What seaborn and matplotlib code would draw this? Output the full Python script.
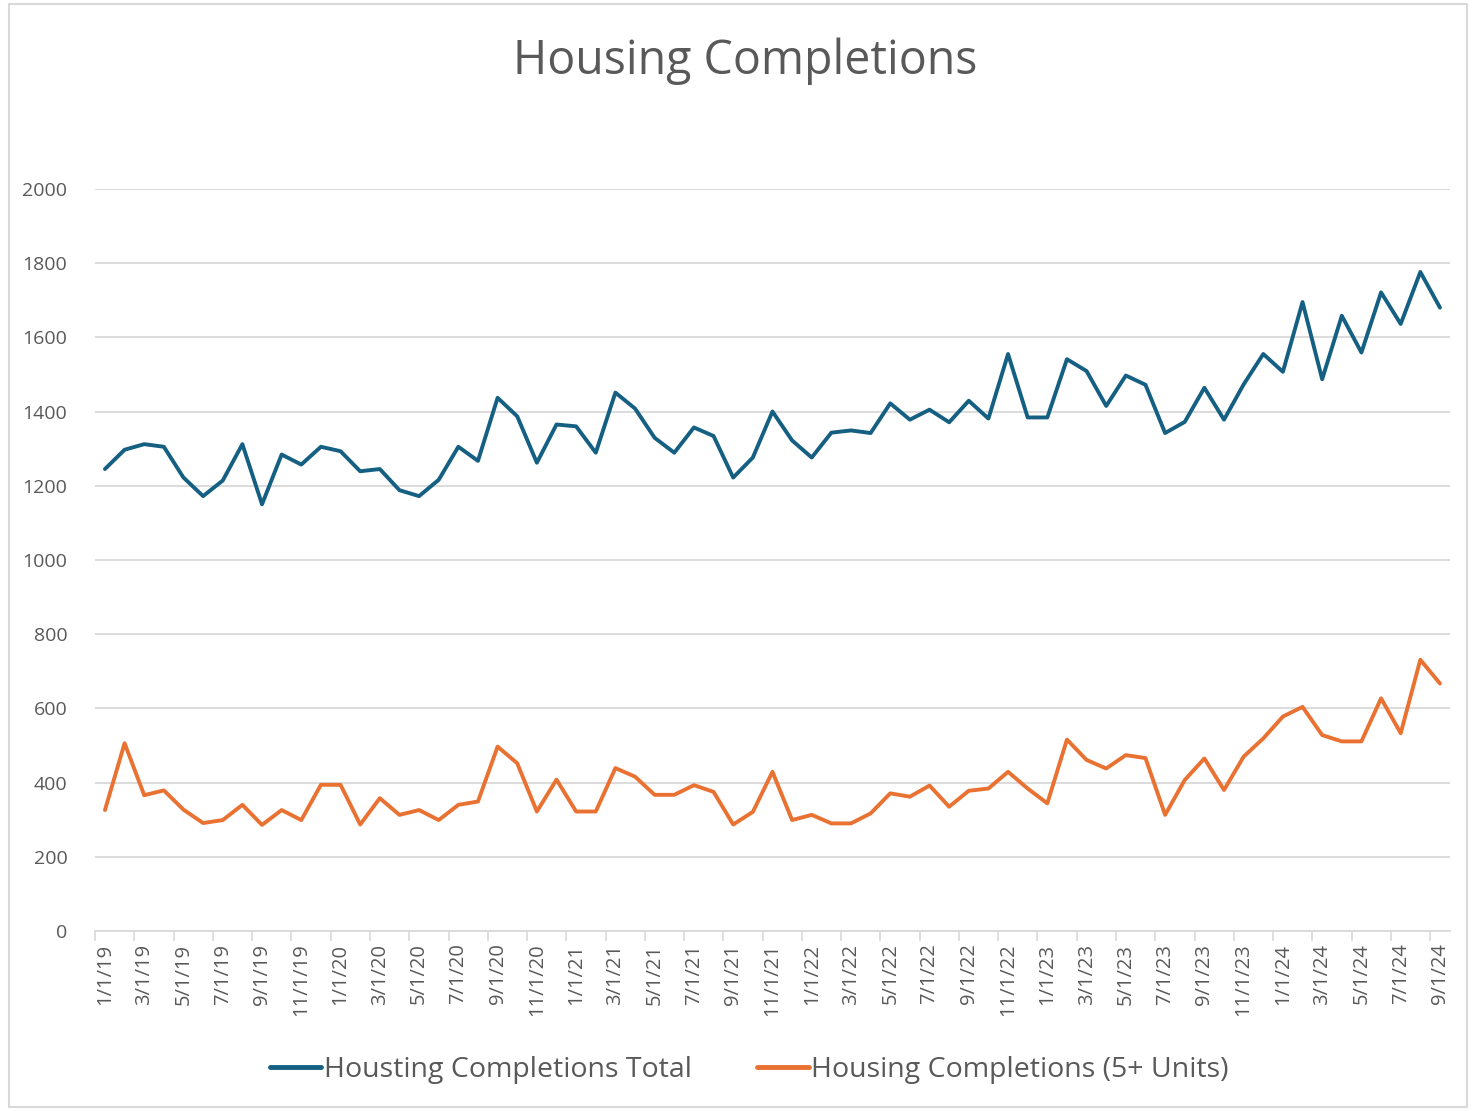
import matplotlib
matplotlib.use("Agg")
import matplotlib.pyplot as plt
from matplotlib.lines import Line2D
from matplotlib.patches import Rectangle
import numpy as np
import pandas as pd
import seaborn as sns


#Data#
months = pd.date_range("2019-01-01", "2024-09-01", freq="MS")
month_labels = [f"{d.month}/1/{d.year % 100}" for d in months]

total = [1245, 1297, 1312, 1305, 1222, 1172, 1214, 1312, 1150, 1284,
         1257, 1305, 1293, 1239, 1245, 1188, 1172, 1216, 1305, 1267,
         1437, 1387, 1262, 1365, 1360, 1289, 1451, 1408, 1329, 1289,
         1357, 1334, 1222, 1276, 1400, 1322, 1276, 1343, 1349, 1342,
         1422, 1378, 1405, 1371, 1429, 1381, 1555, 1384, 1384, 1541,
         1509, 1415, 1497, 1472, 1342, 1372, 1464, 1378, 1473, 1555,
         1507, 1695, 1487, 1658, 1559, 1721, 1636, 1776, 1680]

five_plus = [326, 506, 366, 379, 327, 291, 299, 340, 286, 326,
             299, 394, 394, 287, 358, 313, 326, 299, 340, 349,
             497, 452, 322, 408, 322, 322, 439, 416, 367, 367,
             393, 375, 287, 321, 429, 299, 313, 290, 290, 317,
             371, 362, 392, 335, 378, 384, 429, 384, 344, 516,
             461, 438, 474, 466, 313, 407, 465, 380, 470, 519,
             578, 604, 528, 511, 511, 627, 533, 731, 667]

series_names = ["Housting Completions Total", "Housing Completions (5+ Units)"]
colors = {series_names[0]: "#156082", series_names[1]: "#E97132"}

n = len(months)
df = pd.DataFrame({
    "idx": list(range(n)) * 2,
    "value": total + five_plus,
    "series": [series_names[0]] * n + [series_names[1]] * n,
})


#Plot#
sns.set_theme(style="white")
plt.rcParams["font.family"] = ["Open Sans", "DejaVu Sans"]
grey = "#595959"
light = "#d9d9d9"

fig = plt.figure(figsize=(14.75, 11.11), dpi=100)
ax = fig.add_axes([0.0645, 0.162, 0.9184, 0.668])

sns.lineplot(data=df, x="idx", y="value", hue="series", palette=colors,
             linewidth=2.8, ax=ax, legend=False)

ax.set_xlim(-0.5, n - 0.5)
ax.set_ylim(0, 2000)
ax.set_yticks(range(0, 2001, 200))
ax.yaxis.grid(True, color=light, linewidth=1.3)
ax.xaxis.grid(False)
ax.set_xticks(range(0, n, 2))
ax.set_xticklabels(month_labels[::2], rotation=90)
ax.set_xticks(np.arange(-0.5, n, 2), minor=True)
ax.tick_params(axis="x", which="major", length=0, pad=9, labelsize=14.5, labelcolor=grey)
ax.tick_params(axis="x", which="minor", length=7, width=1.2, color=light, bottom=True)
ax.tick_params(axis="y", length=0, pad=20, labelsize=14, labelcolor=grey)
for s in ["top", "right", "left"]:
    ax.spines[s].set_visible(False)
ax.spines["bottom"].set_color(light)
ax.spines["bottom"].set_linewidth(1.3)
ax.set_xlabel("")
ax.set_ylabel("")

fig.text(0.505, 0.945, "Housing Completions", ha="center", va="center",
         fontsize=33.5, color=grey)

handles = [Line2D([], [], color=colors[s], linewidth=3.5) for s in series_names]
leg = fig.legend(handles, series_names, loc="center", bbox_to_anchor=(0.508, 0.037),
                 ncol=2, frameon=False, handlelength=1.8, handletextpad=0.1,
                 columnspacing=2.3, prop={"size": 20.5})
for t in leg.get_texts():
    t.set_color(grey)

fig.patches.append(Rectangle((9 / 1475, 4 / 1111), 1458 / 1475, 1103 / 1111,
                             transform=fig.transFigure, fill=False,
                             edgecolor=light, linewidth=1.5))

fig.savefig("out.png", dpi=100)
